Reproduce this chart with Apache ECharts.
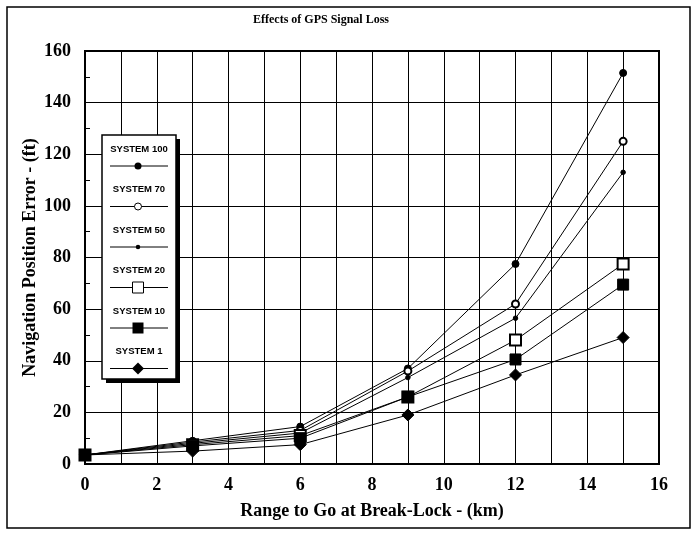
<!DOCTYPE html>
<html><head><meta charset="utf-8">
<script src="https://cdn.jsdelivr.net/npm/echarts@6/dist/echarts.min.js"></script>
<style>html,body{margin:0;padding:0;background:#fff}#c{width:697px;height:538px}</style>
</head><body><div id="c"></div>
<script>
const rangeKm = [0, 3, 6, 9, 12, 15];
const system100 = [3.5, 9, 14.5, 37, 77.5, 151.5];
const system70 = [3.5, 8.5, 13, 36, 62, 125];
const system50 = [3.5, 8, 12, 33.5, 56.5, 113];
const system20 = [3.5, 7.5, 11, 26, 48, 77.5];
const system10 = [3.5, 7, 10, 26, 40.5, 69.5];
const system1 = [3.5, 5, 7.5, 19, 34.5, 49];
const seriesNames = ['SYSTEM 100', 'SYSTEM 70', 'SYSTEM 50', 'SYSTEM 20', 'SYSTEM 10', 'SYSTEM 1'];
const seriesValues = [system100, system70, system50, system20, system10, system1];
const titleText = 'Effects of GPS Signal Loss';
const xTitle = 'Range to Go at Break-Lock - (km)';
const yTitle = 'Navigation Position Error - (ft)';

const symbolSpec = [
  {symbol: 'circle', size: 7, empty: false},
  {symbol: 'emptyCircle', size: 7, empty: true},
  {symbol: 'circle', size: 4.5, empty: false},
  {symbol: 'emptyRect', size: 11, empty: true},
  {symbol: 'rect', size: 11, empty: false},
  {symbol: 'diamond', size: 12, empty: false}
];

const serif = 'Liberation Serif';
const chart = echarts.init(document.getElementById('c'));

const series = seriesNames.map((n, i) => ({
  name: n,
  type: 'line',
  data: rangeKm.map((x, j) => [x, seriesValues[i][j]]),
  symbol: symbolSpec[i].symbol,
  symbolSize: symbolSpec[i].size,
  showAllSymbol: true,
  lineStyle: {color: '#000', width: 1},
  itemStyle: {color: '#000', borderColor: '#000', borderWidth: 1},
  z: 3 + i,
  animation: false
}));

function markerGraphic(spec, cx, cy) {
  const s = spec.size;
  const style = spec.empty ? {fill: '#fff', stroke: '#000', lineWidth: 1} : {fill: '#000'};
  if (spec.symbol.indexOf('ircle') >= 0) return {type: 'circle', shape: {cx: cx, cy: cy, r: s / 2}, style: style};
  if (spec.symbol.indexOf('ect') >= 0) return {type: 'rect', shape: {x: cx - s / 2, y: cy - s / 2, width: s, height: s}, style: style};
  return {type: 'polygon', shape: {points: [[cx, cy - s / 2], [cx + s / 2, cy], [cx, cy + s / 2], [cx - s / 2, cy]]}, style: style};
}

const legendChildren = [
  {type: 'rect', shape: {x: 106, y: 139, width: 74, height: 244}, style: {fill: '#000'}},
  {type: 'rect', shape: {x: 102, y: 135, width: 74, height: 244}, style: {fill: '#fff', stroke: '#000', lineWidth: 1.5}}
];
seriesNames.forEach((n, i) => {
  const y0 = 135 + i * 40.5;
  legendChildren.push({type: 'text', style: {text: n, x: 139, y: y0 + 14, align: 'center', verticalAlign: 'middle', font: 'bold 9.5px "Liberation Sans"', fill: '#000'}});
  legendChildren.push({type: 'line', shape: {x1: 110, y1: y0 + 31, x2: 168, y2: y0 + 31}, style: {stroke: '#000', lineWidth: 1}});
  legendChildren.push(markerGraphic(symbolSpec[i], 138, y0 + 31));
});
legendChildren.forEach((c, k) => { c.z = 200 + k; c.zlevel = 0; });

chart.setOption({
  animation: false,
  backgroundColor: '#fff',
  title: {text: titleText, left: 248, top: 9, textStyle: {fontFamily: serif, fontWeight: 'bold', fontSize: 12, color: '#000'}},
  grid: {left: 85, right: 38, top: 51, bottom: 74, show: true, borderColor: '#000', borderWidth: 2, backgroundColor: 'transparent'},
  xAxis: {
    type: 'value', min: 0, max: 16, interval: 1,
    name: xTitle, nameLocation: 'middle', nameGap: 38, nameMoveOverlap: false,
    nameTextStyle: {fontFamily: serif, fontWeight: 'bold', fontSize: 18, color: '#000'},
    axisLine: {show: true, lineStyle: {color: '#000', width: 2}},
    axisTick: {show: false},
    axisLabel: {formatter: v => (v % 2 === 0 ? String(v) : ''), fontFamily: serif, fontWeight: 'bold', fontSize: 18, color: '#000', margin: 12, showMaxLabel: true},
    splitLine: {show: true, lineStyle: {color: '#000', width: 1}}
  },
  yAxis: {
    type: 'value', min: 0, max: 160, interval: 20,
    name: yTitle, nameLocation: 'middle', nameGap: 46, nameMoveOverlap: false,
    nameTextStyle: {fontFamily: serif, fontWeight: 'bold', fontSize: 18, color: '#000'},
    axisLine: {show: true, lineStyle: {color: '#000', width: 2}},
    axisTick: {show: true, inside: true, length: 5, lineStyle: {color: '#000'}},
    minorTick: {show: true, splitNumber: 2, length: 5, lineStyle: {color: '#000'}},
    axisLabel: {fontFamily: serif, fontWeight: 'bold', fontSize: 18, color: '#000', margin: 14},
    splitLine: {show: true, lineStyle: {color: '#000', width: 1}}
  },
  series: series,
  graphic: [
    {type: 'rect', z: -10, shape: {x: 7, y: 7, width: 683, height: 521}, style: {fill: null, stroke: '#000', lineWidth: 1.5}}
  ].concat(legendChildren)
});
</script></body></html>
